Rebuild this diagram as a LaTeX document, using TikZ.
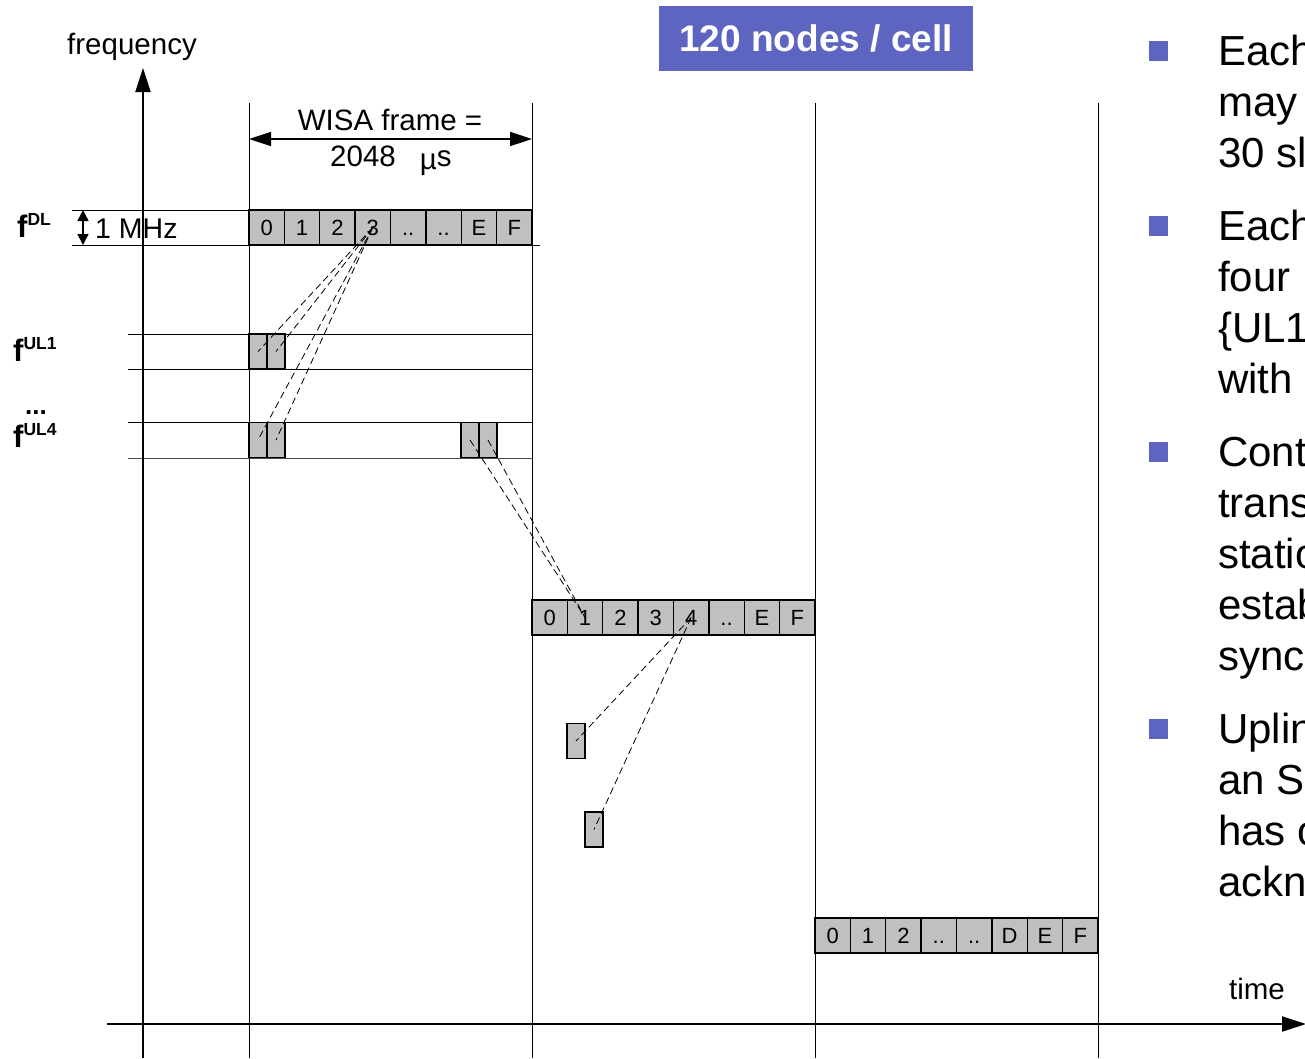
\documentclass[tikz,border=0pt]{standalone}
\usepackage{fontspec}
\setmainfont{Liberation Sans}
\usetikzlibrary{arrows.meta}
\definecolor{cellgray}{RGB}{192,192,192}
\definecolor{titleblue}{RGB}{94,101,192}
\begin{document}
\begin{tikzpicture}[x=1pt,y=-1pt,
  cell/.style={draw=black, fill=cellgray, line width=1.4pt, minimum width=35.375pt, minimum height=35pt, inner sep=0pt, outer sep=0pt, text height=15.8pt, text depth=0pt, font=\fontsize{22}{22}\selectfont},
  slotbox/.style={draw=black, fill=cellgray, line width=1.4pt, minimum width=17.7pt, minimum height=35pt, inner sep=0pt, outer sep=0pt},
  gridline/.style={line width=0.9pt, draw=black},
  link/.style={dash pattern=on 7pt off 4pt, line width=0.8pt},
  lbl/.style={font=\fontsize{29.5}{29.5}\selectfont, inner sep=0pt},
  flbl/.style={font=\bfseries\fontsize{31}{31}\selectfont, inner sep=0pt, anchor=base west},
  bullettxt/.style={font=\fontsize{42}{42}\selectfont, inner sep=0pt, anchor=base west},
  bulletsq/.style={fill=titleblue, minimum width=19pt, minimum height=20pt, inner sep=0pt},
  bigtip/.style={-{Triangle[length=24pt,width=15pt]}},
]
\path[use as bounding box] (0,0) rectangle (1305,1058);
\begin{scope}
\clip (0,0) rectangle (1305,1058);

% vertical frame lines
\foreach \x in {249,532,815,1098}
  \draw[gridline] (\x,103) -- (\x,1058);

% frequency lines
\draw[gridline] (72,210) -- (532,210);
\draw[gridline] (72,245) -- (540,245);
\draw[gridline] (128,334) -- (532,334);
\draw[gridline] (128,369) -- (532,369);
\draw[gridline] (128,422) -- (532,422);
\draw[gridline, draw=black!70] (128,458) -- (532,458);

% axes
\coordinate (fbot) at (143,1058);
\coordinate (ftop) at (143,68);
\coordinate (tleft) at (107,1024);
\coordinate (tright) at (1306,1024);
\draw[line width=2pt, bigtip] (fbot) -- (ftop);
\draw[line width=2pt, bigtip] (tleft) -- (tright);
\node[lbl] (freq) at (132,47) {frequency};
\node[lbl] (time) at (1257,989) {time};

% WISA frame dimension
\coordinate (wl) at (249,139);
\coordinate (wr) at (532,139);
\draw[line width=1.5pt, {Triangle[length=22pt,width=14pt]}-{Triangle[length=22pt,width=14pt]}] (wl) -- (wr);
\node[lbl, anchor=base] (wisa1) at (390,130) {WISA frame =};
\node[lbl, anchor=base west] (wisa2) at (330,166) {2048\hspace{24pt}\raisebox{-3pt}{µ}s};

% 1 MHz
\coordinate (mt) at (83,210);
\coordinate (mb) at (83,245);
\draw[line width=1.5pt, {Triangle[length=11pt,width=11pt]}-{Triangle[length=11pt,width=11pt]}] (mt) -- (mb);
\node[lbl, anchor=base west, font=\fontsize{28.5}{28.5}\selectfont] (mhz) at (95,238) {1 MHz};

% frequency labels
\node[flbl] (fdl) at (17,237) {f\raisebox{12pt}{\fontsize{17.5}{17.5}\selectfont DL}};
\node[flbl] (ful1) at (13,361) {f\raisebox{12pt}{\fontsize{17.5}{17.5}\selectfont UL1}};
\node[flbl, font=\bfseries\fontsize{26}{26}\selectfont] (fdots) at (25,414) {...};
\node[flbl] (ful4) at (13,447) {f\raisebox{12pt}{\fontsize{17.5}{17.5}\selectfont UL4}};

% title
\node[fill=titleblue, minimum width=314pt, minimum height=65pt, inner sep=0pt,
      text=white, font=\bfseries\fontsize{37}{37}\selectfont] (title) at (816,38.5) {\raisebox{-2pt}{120 nodes / cell}};

% DL frames
\foreach \t [count=\i from 0] in {0,1,2,3,{..},{..},E,F}
  \node[cell] (a\i) at ({249+35.375*(\i+0.5)},227.5) {\t};
\foreach \t [count=\i from 0] in {0,1,2,3,4,{..},E,F}
  \node[cell] (b\i) at ({532+35.375*(\i+0.5)},617.5) {\t};
\foreach \t [count=\i from 0] in {0,1,2,{..},{..},D,E,F}
  \node[cell] (c\i) at ({815+35.375*(\i+0.5)},935.5) {\t};

% UL slots
\node[slotbox] (u1a) at (258,351.5) {};
\node[slotbox] (u1b) at (276,351.5) {};
\node[slotbox] (u4a) at (258,440) {};
\node[slotbox] (u4b) at (276,440) {};
\node[slotbox] (u4c) at (470,440) {};
\node[slotbox] (u4d) at (488,440) {};
\node[slotbox] (s1) at (576,741) {};
\node[slotbox] (s2) at (594,829.5) {};

% dashed links
\draw[link] (a3.center) -- (u1a.center);
\draw[link] (a3.center) -- (u1b.center);
\draw[link] (a3.center) -- (u4a.center);
\draw[link] (a3.center) -- (u4b.center);
\draw[link] (u4c.center) -- (b1.center);
\draw[link] (u4d.center) -- (b1.center);
\draw[link] (b4.center) -- (s1.center);
\draw[link] (b4.center) -- (s2.center);

% bullets
\node[bulletsq] (q1) at (1158.5,51) {};
\node[bulletsq] (q2) at (1158.5,226) {};
\node[bulletsq] (q3) at (1158.5,452) {};
\node[bulletsq] (q4) at (1158.5,729) {};
\foreach \yy/\t [count=\k] in {65/Each cell, 116/may contain, 167/30 slots,
    240/Each node, 291/four, 342/{\{UL1, ..., UL4\}}, 393/with,
    466/Control, 517/transmissions, 568/stations, 619/establish, 670/synchronization,
    743/Uplink, 794/an SF, 845/has one, 896/acknowledgement}
  \node[bullettxt] (bt\k) at (1218,\yy) {\t};
\end{scope}
\end{tikzpicture}
\end{document}
